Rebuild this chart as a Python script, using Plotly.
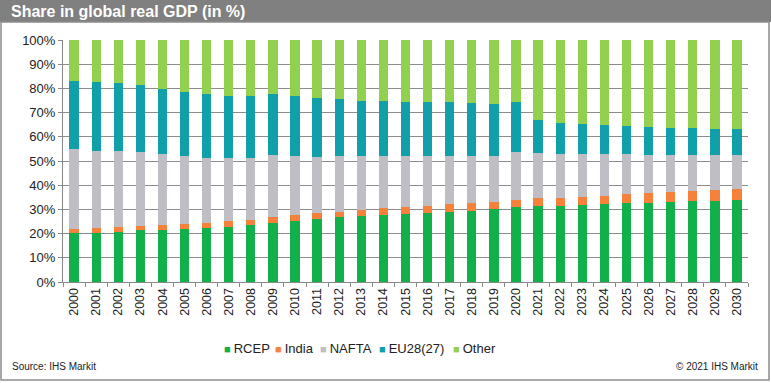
import plotly.graph_objects as go

years = [str(y) for y in range(2000, 2031)]
rcep = [20.1, 20.4, 20.8, 21.4, 21.5, 21.9, 22.3, 22.9, 23.5, 24.5, 25.3, 25.9, 26.7, 27.4, 27.7, 28.1,
        28.6, 29.1, 29.5, 30.0, 30.8, 31.4, 31.4, 31.8, 32.2, 32.5, 32.8, 33.1, 33.3, 33.6, 33.9]
india = [1.8, 1.9, 2.1, 1.9, 2.1, 2.1, 2.2, 2.3, 2.1, 2.5, 2.4, 2.5, 2.4, 2.4, 2.7, 2.7,
         2.8, 3.1, 3.3, 3.2, 3.1, 3.2, 3.4, 3.5, 3.5, 3.7, 3.8, 3.9, 4.2, 4.3, 4.4]
nafta = [32.9, 32.0, 31.2, 30.6, 29.2, 28.1, 26.9, 25.9, 25.5, 25.5, 24.3, 23.4, 23.0, 22.2, 21.6, 21.4,
         20.6, 19.8, 19.2, 18.8, 20.0, 18.8, 18.1, 17.5, 17.1, 16.6, 15.9, 15.5, 15.1, 14.6, 14.2]
eu = [28.4, 28.5, 28.3, 27.5, 27.0, 26.6, 26.3, 25.9, 25.8, 25.0, 24.9, 24.4, 23.5, 22.9, 22.8, 22.3,
      22.5, 22.2, 21.8, 21.5, 20.6, 13.5, 12.9, 12.4, 12.1, 11.7, 11.7, 11.3, 10.9, 10.7, 10.6]
other = [16.8, 17.2, 17.6, 18.6, 20.2, 21.3, 22.3, 23.0, 23.1, 22.5, 23.1, 23.8, 24.4, 25.1, 25.2, 25.5,
         25.5, 25.8, 26.2, 26.5, 25.5, 33.1, 34.2, 34.8, 35.1, 35.5, 35.8, 36.2, 36.5, 36.8, 36.9]

names = ["RCEP", "India", "NAFTA", "EU28(27)", "Other"]
values = [rcep, india, nafta, eu, other]
colors = ["#12B04B", "#F5813A", "#BEBEC4", "#11A0AA", "#92D050"]
legend_x = [222, 273, 318, 377, 451]  # pixel start of each legend item

W, H = 771, 383
L, R, T, B = 63, 23, 40, 101
pw, ph = W - L - R, H - T - B

def px(x):
    return (x - L) / pw

def py(y):
    return (H - B - y) / ph

fig = go.Figure()
for name, vals, col in zip(names, values, colors):
    fig.add_trace(go.Bar(x=years, y=vals, name=name, showlegend=False,
                         marker=dict(color=col, line=dict(width=0))))

font = "Liberation Sans, Arial, sans-serif"
ann = [
    dict(text="<b>Share in global real GDP (in %)</b>", xref="paper", yref="paper", x=px(9), y=py(12),
         xanchor="left", yanchor="middle", showarrow=False,
         font=dict(family="Liberation Sans Narrow, Arial Narrow, Liberation Sans, Arial", size=16, color="white")),
    dict(text="Source: IHS Markit", xref="paper", yref="paper", x=px(10), y=py(366),
         xanchor="left", yanchor="middle", showarrow=False, font=dict(size=10, color="#222")),
    dict(text="© 2021 IHS Markit", xref="paper", yref="paper", x=px(760), y=py(366),
         xanchor="right", yanchor="middle", showarrow=False, font=dict(size=10, color="#222")),
]
for name, col, lx in zip(names, colors, legend_x):
    ann.append(dict(text=f"<span style='color:{col};font-size:11px'>■ </span>{name}",
                    xref="paper", yref="paper", x=px(lx), y=py(348), xanchor="left", yanchor="middle",
                    showarrow=False, font=dict(size=13, color="#222")))

fig.update_layout(
    barmode="stack", bargap=0.58,
    width=W, height=H, margin=dict(l=L, r=R, t=T, b=B, autoexpand=False),
    paper_bgcolor="white", plot_bgcolor="white", showlegend=False,
    font=dict(family=font, size=12, color="#222"),
    xaxis=dict(type="category", tickangle=-90, ticks="outside", tickson="boundaries", ticklen=4,
               tickcolor="#888", showline=True, linecolor="#888", showgrid=False, automargin=False,
               tickfont=dict(size=12.5, color="#222")),
    yaxis=dict(range=[0, 100], dtick=10, ticksuffix="%", showgrid=True, gridcolor="#8c8c8c",
               gridwidth=1, showline=True, linecolor="#888", ticks="outside", ticklen=4, tickcolor="#888",
               tickfont=dict(size=13, color="#222"), zeroline=False, automargin=False),
    shapes=[
        dict(type="rect", xref="paper", yref="paper", x0=px(0), x1=px(W), y0=py(22), y1=py(0),
             fillcolor="#808080", line=dict(width=0), layer="below"),
        dict(type="rect", xref="paper", yref="paper", x0=px(1), x1=px(W - 2), y0=py(H - 3), y1=py(22),
             fillcolor="rgba(0,0,0,0)", line=dict(color="#8c8c8c", width=1.5)),
    ],
    annotations=ann,
)
fig.write_html("out.html", post_script="document.body.style.margin='0';",
               config={"displayModeBar": False})
